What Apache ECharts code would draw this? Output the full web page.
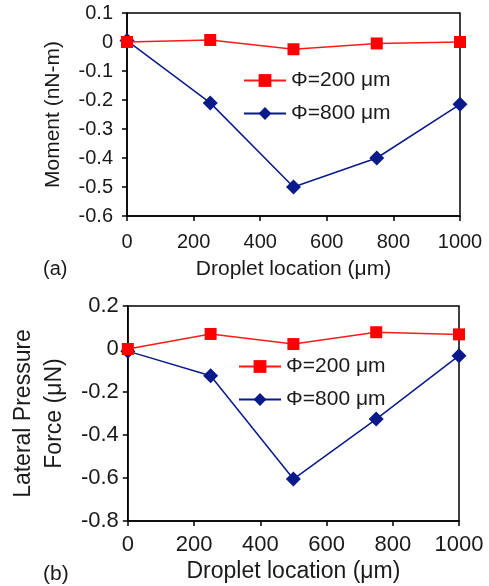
<!DOCTYPE html>
<html>
<head>
<meta charset="utf-8">
<script src="https://cdn.jsdelivr.net/npm/echarts@6/dist/echarts.min.js"></script>
<style>
  html, body { margin: 0; padding: 0; background: #fff; }
  #chart { width: 489px; height: 586px; }
</style>
</head>
<body>
<div id="chart"></div>
<script>
// droplet positions (um)
const locations = [0, 250, 500, 750, 1000];
// (a) moment, nN-m
const momentD200 = [0, 0.007, -0.025, -0.005, 0];
const momentD800 = [0.005, -0.21, -0.5, -0.4, -0.215];
// (b) lateral pressure force, uN
const forceD200 = [0, 0.07, 0.023, 0.078, 0.068];
const forceD800 = [-0.01, -0.124, -0.605, -0.326, -0.031];
const seriesNames = ["Φ=200 μm", "Φ=800 μm"];

const FONT = "Liberation Sans, Arial, sans-serif";
const TXT = "#1a1a1a";

const pair = (xs, ys) => xs.map((x, i) => [x, ys[i]]);

function xAxisCfg(gridIndex, tickSize, nameSize, margin, gap) {
  return {
    type: "value",
    gridIndex: gridIndex,
    min: 0,
    max: 1000,
    interval: 200,
    name: "Droplet location (μm)",
    nameLocation: "middle",
    nameGap: gap,
    nameTextStyle: { fontFamily: FONT, fontSize: nameSize, color: TXT },
    axisLine: { show: true, onZero: false, lineStyle: { color: "#000", width: 1.5 } },
    axisTick: { show: true, length: 5, inside: false, lineStyle: { color: "#000", width: 1.5 } },
    axisLabel: { fontFamily: FONT, fontSize: tickSize, color: TXT, margin: margin, formatter: (v) => String(v) },
    splitLine: { show: false },
  };
}

function yAxisCfg(gridIndex, min, max, interval, name, gap, tickSize, nameSize, margin) {
  return {
    type: "value",
    gridIndex: gridIndex,
    min: min,
    max: max,
    interval: interval,
    name: name,
    nameLocation: "middle",
    nameGap: gap,
    nameRotate: 90,
    nameTextStyle: { fontFamily: FONT, fontSize: nameSize, color: TXT, lineHeight: nameSize + 8 },
    axisLine: { show: true, onZero: false, lineStyle: { color: "#000", width: 1.5 } },
    axisTick: { show: true, length: 5, inside: false, lineStyle: { color: "#000", width: 1.5 } },
    axisLabel: { fontFamily: FONT, fontSize: tickSize, color: TXT, margin: margin, formatter: fmtTick },
    splitLine: { show: false },
  };
}

function fmtTick(v) {
  const r = Math.round(v * 10) / 10;
  return r === 0 ? "0" : String(r);
}

function redSeries(xi, data) {
  return {
    name: seriesNames[0],
    type: "line",
    xAxisIndex: xi,
    yAxisIndex: xi,
    data: data,
    symbol: "rect",
    symbolSize: 12,
    z: 3,
    lineStyle: { color: "#ff1a1a", width: 1.5 },
    itemStyle: { color: "#ff0000" },
  };
}

function blueSeries(xi, data) {
  return {
    name: seriesNames[1],
    type: "line",
    xAxisIndex: xi,
    yAxisIndex: xi,
    data: data,
    symbol: "diamond",
    symbolSize: 15,
    z: 2,
    lineStyle: { color: "#0a1a8a", width: 1.5 },
    itemStyle: { color: "#0a1a8a" },
  };
}

function legendCfg(left, top) {
  return {
    data: seriesNames,
    orient: "vertical",
    left: left,
    top: top,
    padding: 0,
    itemWidth: 42,
    itemHeight: 16,
    itemGap: 12,
    selectedMode: false,
    textStyle: { fontFamily: FONT, fontSize: 21, color: TXT },
  };
}

const chart = echarts.init(document.getElementById("chart"));
chart.setOption({
  animation: false,
  backgroundColor: "#fff",
  title: [
    { text: "(a)", left: 38, top: 254, textStyle: { fontFamily: FONT, fontSize: 20, fontWeight: "normal", color: TXT } },
    { text: "(b)", left: 38, top: 559, textStyle: { fontFamily: FONT, fontSize: 21, fontWeight: "normal", color: TXT } },
  ],
  legend: [legendCfg(243, 70), legendCfg(238, 356)],
  grid: [
    { left: 127, top: 13, width: 333, height: 203, show: true, borderColor: "#000", borderWidth: 1.5, backgroundColor: "transparent" },
    { left: 127, top: 306, width: 332, height: 215, show: true, borderColor: "#000", borderWidth: 1.5, backgroundColor: "transparent" },
  ],
  xAxis: [xAxisCfg(0, 20, 21, 16, 43), xAxisCfg(1, 22, 23, 13, 39)],
  yAxis: [
    yAxisCfg(0, -0.6, 0.1, 0.1, "Moment (nN-m)", 58, 20, 21, 14),
    yAxisCfg(1, -0.8, 0.2, 0.2, "Lateral Pressure\nForce (μN)", 49, 22, 23, 9),
  ],
  series: [
    redSeries(0, pair(locations, momentD200)),
    blueSeries(0, pair(locations, momentD800)),
    redSeries(1, pair(locations, forceD200)),
    blueSeries(1, pair(locations, forceD800)),
  ],
});
</script>
</body>
</html>
